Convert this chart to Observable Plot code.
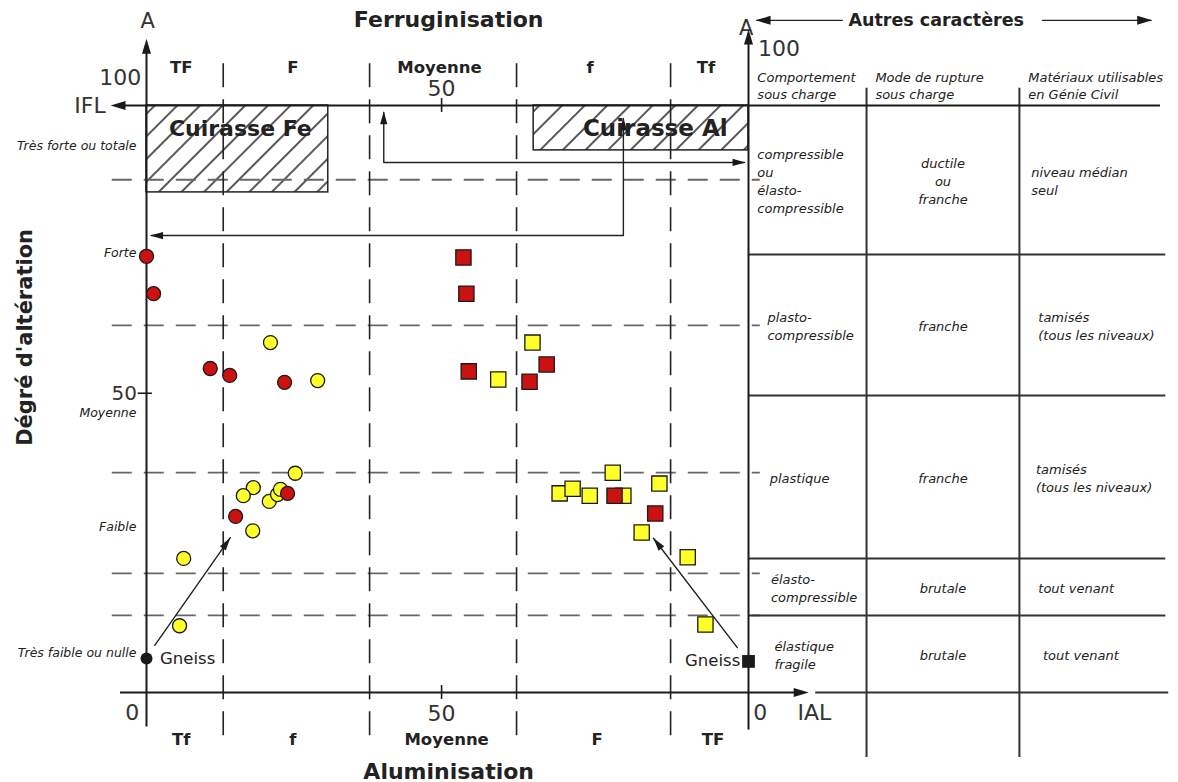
<!DOCTYPE html>
<html><head><meta charset="utf-8">
<script src="https://cdn.jsdelivr.net/npm/d3@7"></script>
<script src="https://cdn.jsdelivr.net/npm/@observablehq/plot@0.6"></script>
<style>body{margin:0;background:#fff;} svg{overflow:visible;}</style>
</head><body><div id="chart"></div>
<script>
// ---------- DATA (horizontal index, degree of alteration) ----------
const feYellow = [[21.0,58.8],[29.0,52.2],[25.2,36.1],[18.1,33.6],[16.4,32.2],[20.8,31.2],[22.2,32.4],[22.7,33.3],[18.0,26.1],[6.3,21.3],[5.6,9.6]];
const feRed    = [[0,73.8],[1.2,67.3],[10.8,54.3],[14.1,53.1],[23.4,51.9],[15.1,28.6],[23.9,32.6]];
const alYellow = [[65.4,58.8],[59.6,52.4],[70.0,32.6],[72.2,33.4],[75.1,32.2],[79.0,36.2],[80.8,32.2],[86.9,34.3],[83.9,25.8],[91.7,21.5],[94.7,9.8]];
const alRed    = [[53.7,73.6],[54.2,67.3],[54.6,53.8],[64.9,52.0],[67.8,55.0],[79.3,32.2],[86.2,29.1]];
const gneissFe = [[0,3.9]];
const gneissAl = [[102,3.4]];

const classBounds   = [0, 13, 37.8, 62.7, 88.8, 102];
const topClasses    = ["TF","F","Moyenne","f","Tf"];
const bottomClasses = ["Tf","f","Moyenne","F","TF"];
const levels        = [87.1, 61.8, 36.2, 18.7, 11.4];
const levelNames    = ["Très forte ou totale","Forte","Moyenne","Faible","Très faible ou nulle"];
const levelNameY    = [93, 74.3, 46.6, 26.8, 4.8];

const tableCols = [102, 122, 147.9, 172.7];
const tableRows = [100, 74.1, 49.6, 21.3, 11.4, -2];
const headers = ["Comportement\nsous charge","Mode de rupture\nsous charge","Matériaux utilisables\nen Génie Civil"];
const comportement = ["compressible\nou\nélasto-\ncompressible","plasto-\ncompressible","plastique","élasto-\ncompressible","élastique\nfragile"];
const rupture = ["ductile\nou\nfranche","franche","franche","brutale","brutale"];
const materiaux = ["niveau médian\nseul","tamisés\n(tous les niveaux)","tamisés\n(tous les niveaux)","tout venant","tout venant"];

// ---------- build ----------
const F = "DejaVu Sans";
const ink = "#1a1a1a";
const cx = d => d[0], cy = d => d[1];

const bandCenters = topClasses.map((_, i) => (classBounds[i] + classBounds[i+1]) / 2);
const rowCenters = comportement.map((_, i) => (tableRows[i] + tableRows[i+1]) / 2);
const col1Indent = [1.5, 3.2, 3.6, 3.8, 4.4];
const col3Indent = [2.0, 3.2, 2.8, 3.2, 4.0];

const col1Cells = comportement.map((t, i) => ({x: tableCols[0] + col1Indent[i], y: rowCenters[i], t}));
const col2Cells = rupture.map((t, i) => ({x: (tableCols[1] + tableCols[2]) / 2, y: rowCenters[i], t}));
const col3Cells = materiaux.map((t, i) => ({x: tableCols[2] + col3Indent[i], y: rowCenters[i], t}));
const headCells = headers.map((t, i) => ({x: tableCols[i] + 1.5, y: 103.6, t}));

const paths = [
  {id:"A", x:80.8, y:97.7},{id:"A", x:80.8, y:77.4},{id:"A", x:0.8, y:77.4},
  {id:"B", x:40.2, y:98.8},{id:"B", x:40.2, y:90.1},{id:"B", x:101.3, y:90.1},
  {id:"G1", x:1.4, y:6.2},{id:"G1", x:14.2, y:24.9},
  {id:"G2", x:100.1, y:5.8},{id:"G2", x:85.9, y:24.8},
  {id:"T1", x:117.9, y:114.8},{id:"T1", x:103.4, y:114.8},
  {id:"T2", x:151.8, y:114.8},{id:"T2", x:170.2, y:114.8}
];
const bigTips = [
  {x:0, y:111.6, r:0},{x:102, y:113.2, r:0},{x:-6.1, y:100, r:-90},{x:112.2, y:-2, r:90},
  {x:103.2, y:114.8, r:-90},{x:170.4, y:114.8, r:90}
];
const smallTips = [
  {x:80.8, y:97.9, r:0},{x:0.6, y:77.4, r:-90},{x:40.2, y:99.0, r:0},{x:101.5, y:90.1, r:90},
  {x:14.2, y:24.9, r:35},{x:85.9, y:24.8, r:-37.6}
];

const tableText = {x:"x", y:"y", text:"t", lineAnchor:"middle", lineHeight:1.4, fontSize:13, fontStyle:"italic", fill:"#222"};

const chart = Plot.plot({
  width: 1178, height: 782,
  x: {domain: [0, 102], range: [146, 748], axis: null},
  y: {domain: [-2, 100], range: [692, 105], axis: null},
  style: {fontFamily: F, background: "#fff", overflow: "visible"},
  marks: [
    // cuirasse boxes
    Plot.rect([{x1:0, x2:30.8, y1:84.9, y2:100}, {x1:65.6, x2:102, y1:92.2, y2:100}],
      {x1:"x1", x2:"x2", y1:"y1", y2:"y2", fill:"url(#hatch)", stroke:"#222", strokeWidth:1.5}),
    // dashed zoning
    Plot.ruleY(levels, {x1:-5.8, x2:104, stroke:"#666", strokeWidth:1.8, strokeDasharray:"20,12"}),
    Plot.ruleX(classBounds.slice(1, -1), {y1:-9.5, y2:108.7, stroke:"#222", strokeWidth:1.6, strokeDasharray:"24,12"}),
    // table
    Plot.ruleX(tableCols.slice(1, 3), {y1:-13.3, y2:103, stroke:"#333", strokeWidth:2}),
    Plot.ruleY(tableRows.slice(1, 5), {x1:102, x2:172.7, stroke:"#333", strokeWidth:2}),
    Plot.ruleY([-2], {x1:113.4, x2:173.2, stroke:"#333", strokeWidth:2}),
    // axes
    Plot.ruleX([0], {y1:-8, y2:110, stroke:ink, strokeWidth:2}),
    Plot.ruleX([102], {y1:-8.5, y2:111.5, stroke:ink, strokeWidth:2}),
    Plot.ruleY([-2], {x1:-4.4, x2:110.5, stroke:ink, strokeWidth:2}),
    Plot.ruleY([100], {x1:-4.5, x2:171.8, stroke:ink, strokeWidth:2}),
    Plot.ruleY([50], {x1:-1.4, x2:1.0, stroke:ink, strokeWidth:1.6}),
    Plot.ruleX([50], {y1:98.8, y2:101.2, stroke:ink, strokeWidth:1.6}),
    Plot.ruleX([50], {y1:-3.2, y2:-0.8, stroke:ink, strokeWidth:1.6}),
    // annotation paths + arrowheads
    Plot.line(paths, {x:"x", y:"y", z:"id", stroke:"#222", strokeWidth:1.4}),
    Plot.vector(bigTips, {x:"x", y:"y", rotate:"r", length:15, r:4.5, shape:"spike", anchor:"end", fill:ink, stroke:"none"}),
    Plot.vector(smallTips, {x:"x", y:"y", rotate:"r", length:13, r:3.6, shape:"spike", anchor:"end", fill:ink, stroke:"none"}),
    // points
    Plot.dot(feYellow, {x:cx, y:cy, r:7, fill:"#ffff2a", stroke:ink, strokeWidth:1.3}),
    Plot.dot(feRed, {x:cx, y:cy, r:7, fill:"#cc1111", stroke:ink, strokeWidth:1.3}),
    Plot.dot(alYellow, {x:cx, y:cy, r:8.6, symbol:"square", fill:"#ffff2a", stroke:ink, strokeWidth:1.3}),
    Plot.dot(alRed, {x:cx, y:cy, r:8.6, symbol:"square", fill:"#cc1111", stroke:ink, strokeWidth:1.3}),
    Plot.dot(gneissFe, {x:cx, y:cy, r:6, fill:ink}),
    Plot.dot(gneissAl, {x:cx, y:cy, r:7.2, symbol:"square", fill:ink}),
    // texts: titles
    Plot.text(["Ferruginisation"], {x:51.2, y:114.8, fontSize:22, fontWeight:"bold", fill:"#222"}),
    Plot.text(["Aluminisation"], {x:51.2, y:-15.8, fontSize:22, fontWeight:"bold", fill:"#222"}),
    Plot.text(["Dégré d'altération"], {x:-20.6, y:59.7, rotate:-90, fontSize:21, fontWeight:"bold", fill:"#222"}),
    Plot.text(["Autres caractères"], {x:133.8, y:114.8, fontSize:17.5, fontWeight:"bold", fill:"#222"}),
    // class labels
    Plot.text(topClasses, {x:(d, i) => bandCenters[i] - 0.6, y:106.6, text:d => d, fontSize:16.5, fontWeight:"bold", fill:"#222"}),
    Plot.text(bottomClasses, {x:(d, i) => bandCenters[i] + (i > 1 ? 0.6 : -0.6), y:-10.2, text:d => d, fontSize:16.5, fontWeight:"bold", fill:"#222"}),
    // level labels
    Plot.text(levelNames, {x:-1.7, y:(d, i) => levelNameY[i], text:d => d, textAnchor:"end", fontSize:12.5, fontStyle:"italic", fill:"#222"}),
    // numbers / axis names
    Plot.text(["100"], {x:-0.9, y:104.7, textAnchor:"end", fontSize:22, fill:"#333"}),
    Plot.text(["IFL"], {x:-6.9, y:100, textAnchor:"end", fontSize:22, fill:"#333"}),
    Plot.text(["50"], {x:50, y:102.9, fontSize:22, fill:"#333"}),
    Plot.text(["50"], {x:-1.6, y:50.0, textAnchor:"end", fontSize:20, fill:"#333"}),
    Plot.text(["A"], {x:0.2, y:114.6, fontSize:21, fill:"#333"}),
    Plot.text(["A"], {x:101.6, y:113.4, fontSize:21, fill:"#333"}),
    Plot.text(["100"], {x:103.6, y:109.8, textAnchor:"start", fontSize:22, fill:"#333"}),
    Plot.text(["0"], {x:-2.4, y:-5.6, fontSize:22, fill:"#333"}),
    Plot.text(["50"], {x:50, y:-5.8, fontSize:22, fill:"#333"}),
    Plot.text(["0"], {x:104.0, y:-5.6, fontSize:22, fill:"#333"}),
    Plot.text(["IAL"], {x:110.3, y:-5.6, textAnchor:"start", fontSize:22, fill:"#333"}),
    Plot.text(["Gneiss"], {x:2.3, y:3.9, textAnchor:"start", fontSize:16.5, fill:"#222"}),
    Plot.text(["Gneiss"], {x:100.6, y:3.6, textAnchor:"end", fontSize:16.5, fill:"#222"}),
    Plot.text(["Cuirasse Fe"], {x:15.9, y:96.0, fontSize:22, fontWeight:"bold", fill:"#222"}),
    Plot.text(["Cuirasse Al"], {x:86.2, y:96.0, fontSize:23, fontWeight:"bold", fill:"#222"}),
    // table text
    Plot.text(headCells, {x:"x", y:"y", text:"t", textAnchor:"start", lineAnchor:"middle", lineHeight:1.3, fontSize:13, fontStyle:"italic", fill:"#222"}),
    Plot.text(col1Cells, {...tableText, textAnchor:"start"}),
    Plot.text(col2Cells, {...tableText, textAnchor:"middle"}),
    Plot.text(col3Cells, {...tableText, textAnchor:"start"})
  ]
});

// hatch pattern for the cuirasse boxes
const defs = d3.select(chart).insert("defs", ":first-child");
const pat = defs.append("pattern").attr("id", "hatch").attr("patternUnits", "userSpaceOnUse")
  .attr("width", 16).attr("height", 16).attr("patternTransform", "rotate(45)");
pat.append("rect").attr("width", 16).attr("height", 16).attr("fill", "#fff");
pat.append("line").attr("x1", 8).attr("y1", 0).attr("x2", 8).attr("y2", 16).attr("stroke", "#111").attr("stroke-width", 1.4);

document.getElementById("chart").appendChild(chart);
</script>
</body></html>
